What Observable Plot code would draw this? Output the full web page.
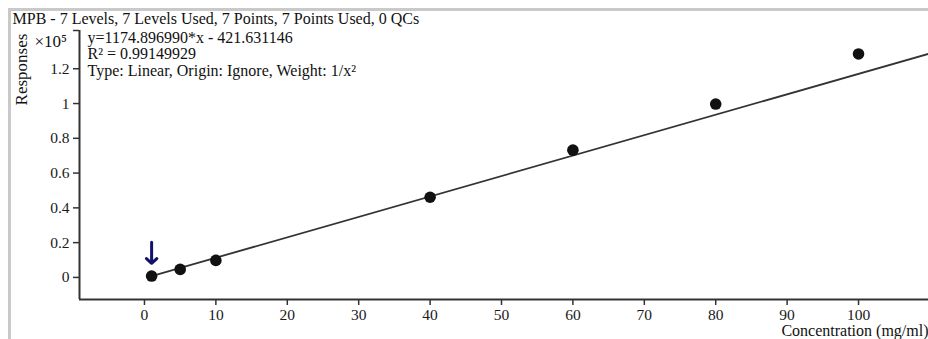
<!DOCTYPE html>
<html>
<head>
<meta charset="utf-8">
<script src="https://cdn.jsdelivr.net/npm/d3@7"></script>
<script src="https://cdn.jsdelivr.net/npm/@observablehq/plot@0.6"></script>
<style>
  html, body { margin: 0; padding: 0; background: #fff; }
  #wrap { position: relative; width: 928px; height: 339px; overflow: hidden; }
  #wrap svg { position: absolute; left: 0; top: 0; }
  #border { position: absolute; left: 8px; top: 8px; width: 940px; height: 360px;
            border-top: 3px solid #c9c9c9; border-left: 3px solid #c9c9c9; }
</style>
</head>
<body>
<div id="wrap"><div id="border"></div></div>
<script>
// Data (responses in units of 1e5)
const concentrations = [1, 5, 10, 40, 60, 80, 100];
const responses = [0.008, 0.046, 0.098, 0.461, 0.732, 0.997, 1.285];
// Calibration fit shown in the chart: y = slope*x + intercept (raw units)
const slope = 1174.896990;
const intercept = -421.631146;
const fitRange = [1, 109.8];
const xTicks = [0, 10, 20, 30, 40, 50, 60, 70, 80, 90, 100];
const yTicks = [0, 0.2, 0.4, 0.6, 0.8, 1, 1.2];
const titleText = "MPB - 7 Levels, 7 Levels Used, 7 Points, 7 Points Used, 0 QCs";
const infoLines = ["y=1174.896990*x - 421.631146", "R\u00b2 = 0.99149929", "Type: Linear, Origin: Ignore, Weight: 1/x\u00b2"];
const flagged = [{x: 1, y1: 0.202, y2: 0.081}];

const xDomain = [-9.1, 109.8];
const yDomain = [-0.127, 1.42];

const points = concentrations.map((c, i) => ({x: c, y: responses[i]}));
const fit = fitRange.map(x => ({x, y: (slope * x + intercept) / 1e5}));

const font = "'Liberation Serif', 'Times New Roman', serif";
const L = 79, T = 30; // frame origin, used to place free texts

const infoMarks = infoLines.map((line, i) =>
  Plot.text([line], {frameAnchor: "top-left", dx: 87 - L, dy: 31 + i * 16.5 - T, text: d => d,
    textAnchor: "start", lineAnchor: "top", fontSize: 16, fill: "#111"}));

const chart = Plot.plot({
  width: 928,
  height: 339,
  marginLeft: L,
  marginTop: T,
  marginRight: 0,
  marginBottom: 40,
  style: {fontFamily: font, fontSize: "15.5px", color: "#1a1a1a", background: "transparent", overflow: "visible"},
  x: {domain: xDomain, label: null},
  y: {domain: yDomain, label: null},
  marks: [
    Plot.axisX({ticks: xTicks, tickSize: 6, tickPadding: 3, tickFormat: d => String(d), stroke: "#333", strokeWidth: 1.5, fontSize: 15.5}),
    Plot.axisY({ticks: yTicks, tickSize: 6, tickPadding: 4, tickFormat: d => String(d), stroke: "#333", strokeWidth: 1.5, fontSize: 15.5}),
    Plot.ruleX([xDomain[0]], {stroke: "#333", strokeWidth: 2}),
    Plot.ruleY([yDomain[0]], {stroke: "#333", strokeWidth: 2}),
    Plot.ruleY([yDomain[1]], {x1: xDomain[0] - 0.85, x2: xDomain[0], stroke: "#333", strokeWidth: 1.5}),
    Plot.line(fit, {x: "x", y: "y", stroke: "#333", strokeWidth: 1.8}),
    Plot.dot(points, {x: "x", y: "y", r: 5.8, fill: "#111", stroke: "none"}),
    Plot.arrow(flagged, {x1: "x", x2: "x", y1: "y1", y2: "y2", stroke: "#12126b", strokeWidth: 3, headLength: 14, headAngle: 95}),
    Plot.text([titleText], {frameAnchor: "top-left", dx: 12 - L, dy: 12 - T, text: d => d, textAnchor: "start", lineAnchor: "top", fontSize: 16, fill: "#111"}),
    ...infoMarks,
    Plot.text(["\u00d710\u2075"], {frameAnchor: "top-left", dx: 34 - L, dy: 34 - T, text: d => d, textAnchor: "start", lineAnchor: "top", fontSize: 17, fill: "#111"}),
    Plot.text(["Responses"], {frameAnchor: "top-left", dx: 21 - L, dy: 69 - T, text: d => d, rotate: -90, textAnchor: "middle", lineAnchor: "middle", fontSize: 17, fill: "#111"}),
    Plot.text(["Concentration (mg/ml)"], {frameAnchor: "bottom-right", dx: 0, dy: 36.5, text: d => d, textAnchor: "end", lineAnchor: "bottom", fontSize: 16, fill: "#111"})
  ]
});

document.getElementById("wrap").appendChild(chart);
</script>
</body>
</html>
